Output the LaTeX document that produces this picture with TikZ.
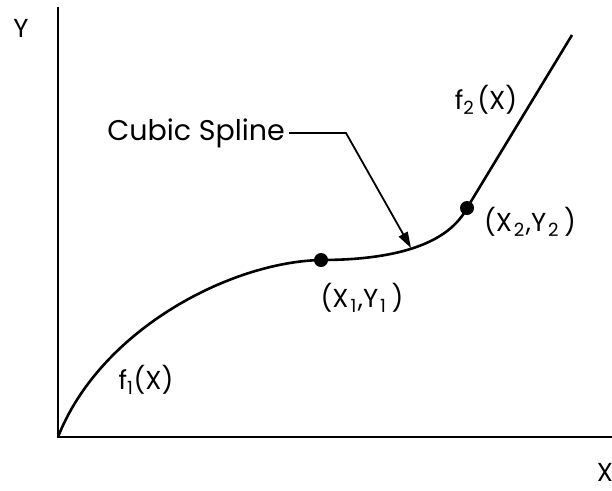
\documentclass[tikz,border=0pt]{standalone}
\usepackage{fontspec}
\setmainfont{Poppins}
\usetikzlibrary{arrows.meta}
\begin{document}
\begin{tikzpicture}[x=1pt,y=-1pt,
  axisline/.style={line width=2.8pt},
  curveline/.style={line width=2.6pt},
  lbl/.style={inner sep=0pt,font=\fontsize{26}{28}\selectfont},
  knot/.style={circle,fill=black,inner sep=0pt,minimum size=14pt}]
\useasboundingbox (0,0) rectangle (612,490);
\coordinate (O) at (58,437);
\coordinate (ytop) at (58,8);
\coordinate (xend) at (614,437);
\draw[axisline,line cap=rect] (ytop) -- (O) -- (xend);
\node[lbl] (ylab) at (21,28) {Y};
\node[lbl] (xlab) at (605,472) {X};
\node[knot] (p1) at (321,260) {};
\node[knot] (p2) at (467,208) {};
\coordinate (tip) at (572,35);
\draw[curveline] (O) .. controls (100,330) and (230,262) .. (p1.center)
  .. controls (380,260) and (445,250) .. (p2.center) -- (tip);
\coordinate (hit) at (411,248);
\node[lbl,anchor=east,font=\fontsize{28.5}{30}\selectfont] (cs) at (285,133) {Cubic Spline};
\coordinate (bend) at (346,133);
\draw[line width=1.8pt,-{Triangle[length=16pt,width=10pt]}] (cs.east) ++(4pt,0) -- (bend) -- (hit);
\node[lbl] (l1) at (362,298) {(X\kern2pt\textsubscript{1}\kern1pt,Y\kern2pt\textsubscript{1}\kern5pt)};
\node[lbl] (l2) at (530,222) {(X\kern2pt\textsubscript{2}\kern1pt,Y\kern2pt\textsubscript{2}\kern5pt)};
\node[lbl] (f1) at (146,380) {f\textsubscript{1}(X)};
\node[lbl] (f2) at (486,100) {f\textsubscript{2}\kern3pt(X)};
\end{tikzpicture}
\end{document}
